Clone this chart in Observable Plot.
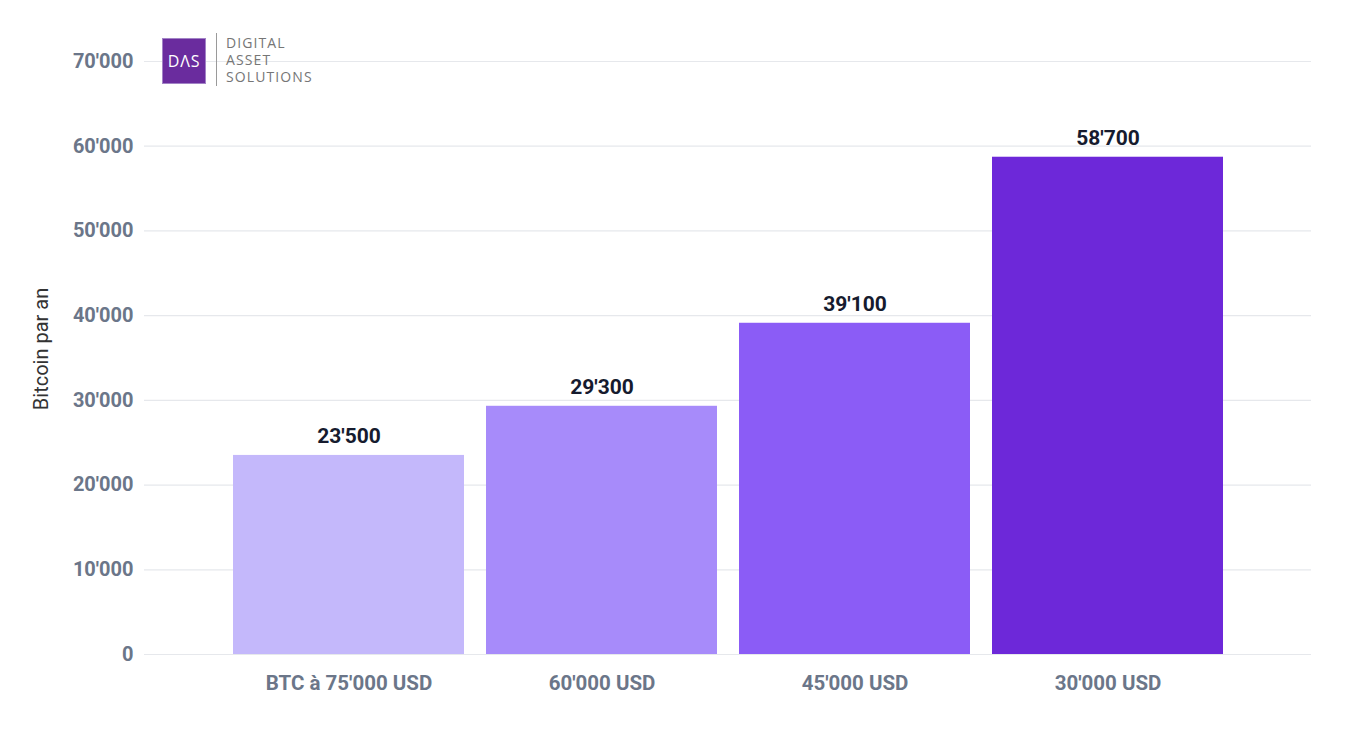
<!DOCTYPE html>
<html>
<head>
<meta charset="utf-8">
<script src="https://cdn.jsdelivr.net/npm/d3@7"></script>
<script src="https://cdn.jsdelivr.net/npm/@observablehq/plot@0.6"></script>
<style>
  html, body { margin: 0; padding: 0; background: #fff; }
  #wrap { position: relative; width: 1367px; height: 733px; font-family: Roboto, "Noto Sans", sans-serif; }
  #logo { position: absolute; left: 162px; top: 33px; display: flex; align-items: center; }
  #logo .box { width: 44px; height: 46px; background: #6a2c9e; border: 1px solid #a283c6; box-sizing: border-box;
               color: #fff; font: 500 16px "Open Sans", sans-serif; display: flex; align-items: center; justify-content: center; letter-spacing: 0.8px; margin-top: 2px; }
  #logo .sep { width: 1px; height: 53px; background: #9a9a9a; margin-left: 10px; margin-right: 9px; }
  #logo .txt { color: #767676; font: 400 14px "Open Sans", sans-serif; line-height: 17px; letter-spacing: 1.1px; }
  #logo .txt div { height: 17px; }
</style>
</head>
<body>
<div id="wrap">
  <div id="chart"></div>
  <div id="logo"><div class="box">DΛS</div><div class="sep"></div><div class="txt"><div>DIGITAL</div><div>ASSET</div><div>SOLUTIONS</div></div></div>
</div>
<script>
const categories = ["BTC à 75'000 USD", "60'000 USD", "45'000 USD", "30'000 USD"];
const values = [23500, 29300, 39100, 58700];
const colors = ["#c4b8fb", "#a78bfa", "#8b5cf6", "#6d28d9"];
const yTicks = [0, 10000, 20000, 30000, 40000, 50000, 60000, 70000];
const yLabel = "Bitcoin par an";

const fmt = d3.formatLocale({decimal: ".", thousands: "'", grouping: [3], currency: ["", ""]}).format(",");
const data = categories.map((c, i) => ({cat: c, val: values[i], color: colors[i]}));

const chart = Plot.plot({
  width: 1367,
  height: 733,
  marginLeft: 144,
  marginRight: 56,
  marginTop: 61,
  marginBottom: 79,
  style: {fontFamily: "Roboto, sans-serif", background: "#fff"},
  x: {domain: categories, paddingInner: 0.087, paddingOuter: 0, insetLeft: 87, insetRight: 87, label: null},
  y: {domain: [0, 70000], ticks: yTicks, label: null},
  marks: [
    Plot.ruleY(yTicks, {stroke: "#e6e8ec", strokeWidth: 1.2}),
    Plot.barY(data, {x: "cat", y: "val", fill: "color"}),
    Plot.text(data, {x: "cat", y: "val", text: d => fmt(d.val), dy: -19, fontSize: 21, fontWeight: 700, fill: "#161b2e"}),
    Plot.axisY({ticks: yTicks, tickFormat: fmt, tickSize: 0, tickPadding: 11, fontSize: 20, fontWeight: 700, color: "#6b7689", label: null}),
    Plot.axisX({tickSize: 0, tickPadding: 21, fontSize: 20.5, fontWeight: 700, color: "#6b7689", label: null}),
    Plot.text([yLabel], {frameAnchor: "left", textAnchor: "middle", rotate: -90, dx: -103, dy: -9, fontSize: 20, fill: "#333", text: d => d})
  ]
});
document.getElementById("chart").appendChild(chart);
</script>
</body>
</html>
